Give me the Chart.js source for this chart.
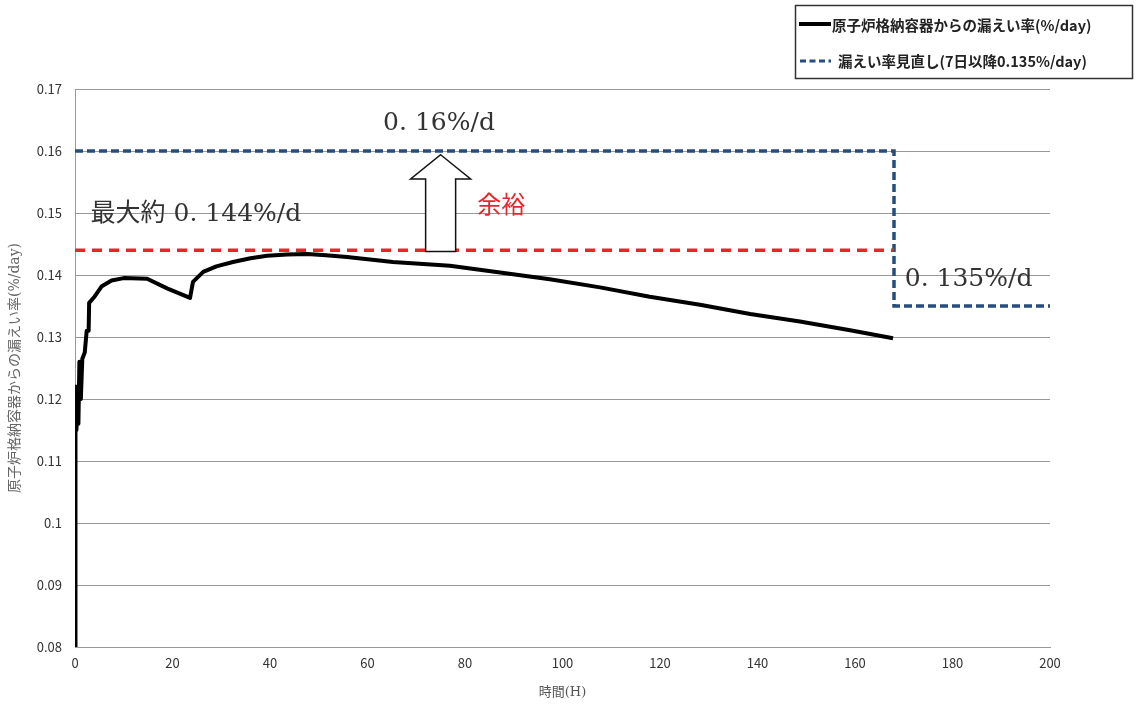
<!DOCTYPE html>
<html>
<head>
<meta charset="utf-8">
<script src="https://cdn.jsdelivr.net/npm/chart.js@4/dist/chart.umd.min.js"></script>
<style>
  html, body { margin: 0; padding: 0; background: #fff; }
  #wrap { width: 1139px; height: 704px; position: relative; }
</style>
</head>
<body>
<div id="wrap"><canvas id="leakChart" width="1139" height="704"></canvas></div>
<script>
// elapsed hours and leak rate (%/day)
const hours = [0, 0.1, 0.3, 0.5, 0.7, 0.9, 1.2, 1.5, 2.0, 2.4, 2.8, 2.9, 4, 5.5, 7.5, 10, 14.8, 19, 23.6,
  24.2, 26.3, 29, 32.4, 36, 39.4, 43.5, 47.6, 51.5, 55.8, 65.2, 76.9, 87.2, 97.4, 107.7, 117.9,
  128.2, 138.5, 148.7, 159, 167.8];
const leakRate = [0.08, 0.122, 0.115, 0.121, 0.116, 0.126, 0.120, 0.1265, 0.1275, 0.131, 0.131, 0.1355,
  0.1365, 0.1382, 0.1391, 0.1395, 0.1394, 0.1378, 0.1363,
  0.1389, 0.1405, 0.1414, 0.1421, 0.1427, 0.1431, 0.1433, 0.1434, 0.1432, 0.1429, 0.1421, 0.1415,
  0.1404, 0.1393, 0.1380, 0.1365, 0.1352, 0.1337, 0.1325, 0.1311, 0.1298];

// revised leak rate (0.16 until 7 days, 0.135 afterwards)
const reviewHours = [0, 168, 168, 200];
const reviewRate = [0.16, 0.16, 0.135, 0.135];

// max value line
const maxHours = [0, 168];
const maxRate = [0.144, 0.144];

const yTicks = [0.08, 0.09, 0.1, 0.11, 0.12, 0.13, 0.14, 0.15, 0.16, 0.17];
const xTicks = [0, 20, 40, 60, 80, 100, 120, 140, 160, 180, 200];

const legendLabels = ["原子炉格納容器からの漏えい率(%/day)", "漏えい率見直し(7日以降0.135%/day)"];
const yTitle = "原子炉格納容器からの漏えい率(%/day)";
const xTitle = "時間(H)";

function pts(xs, ys) {
  return xs.map((x, i) => ({ x: x, y: ys[i] }));
}

const SERIF = "'DejaVu Serif', 'Liberation Serif', 'Noto Sans CJK JP', serif";
const SANS = "'Noto Sans CJK JP', 'Open Sans', sans-serif";

const notesPlugin = {
  id: "notes",
  afterDatasetsDraw(chart) {
    const ctx = chart.ctx;
    const xs = chart.scales.x, ys = chart.scales.y;
    ctx.save();

    // hollow arrow showing the margin
    const cx = xs.getPixelForValue(75);
    const tip = ys.getPixelForValue(0.1594);
    const headBase = ys.getPixelForValue(0.1555);
    const bottom = ys.getPixelForValue(0.1438);
    ctx.beginPath();
    ctx.moveTo(cx, tip);
    ctx.lineTo(cx + 30, headBase);
    ctx.lineTo(cx + 15, headBase);
    ctx.lineTo(cx + 15, bottom);
    ctx.lineTo(cx - 15, bottom);
    ctx.lineTo(cx - 15, headBase);
    ctx.lineTo(cx - 30, headBase);
    ctx.closePath();
    ctx.fillStyle = "#fff";
    ctx.fill();
    ctx.strokeStyle = "#111";
    ctx.lineWidth = 1.5;
    ctx.stroke();

    ctx.textBaseline = "middle";
    ctx.textAlign = "left";
    ctx.fillStyle = "#333";
    ctx.font = "25px " + SERIF;
    ctx.fillText("0. 16%/d", xs.getPixelForValue(63.2), ys.getPixelForValue(0.1645));
    ctx.fillText("最大約 0. 144%/d", xs.getPixelForValue(3.2), ys.getPixelForValue(0.1497));
    ctx.fillText("0. 135%/d", xs.getPixelForValue(170.2), ys.getPixelForValue(0.1393));

    ctx.fillStyle = "#e8262a";
    ctx.font = "24px " + SANS;
    ctx.fillText("余裕", xs.getPixelForValue(82.5), ys.getPixelForValue(0.1515));

    // legend box
    ctx.strokeStyle = "#333";
    ctx.lineWidth = 1.5;
    ctx.strokeRect(795.5, 5.5, 337, 73);
    ctx.lineWidth = 4;
    ctx.strokeStyle = "#000";
    ctx.beginPath();
    ctx.moveTo(799, 24);
    ctx.lineTo(831, 24);
    ctx.stroke();
    ctx.lineWidth = 3;
    ctx.strokeStyle = "#264d80";
    ctx.setLineDash([6, 3.5]);
    ctx.beginPath();
    ctx.moveTo(800, 61);
    ctx.lineTo(831, 61);
    ctx.stroke();
    ctx.setLineDash([]);
    ctx.fillStyle = "#222";
    ctx.font = "bold 14.5px " + SANS;
    ctx.fillText(legendLabels[0], 832, 25);
    ctx.fillText(legendLabels[1], 838, 61);

    ctx.restore();
  }
};

new Chart(document.getElementById("leakChart").getContext("2d"), {
  type: "scatter",
  data: {
    datasets: [
      {
        label: legendLabels[1],
        data: pts(reviewHours, reviewRate),
        showLine: true,
        borderColor: "#264d80",
        borderWidth: 3.5,
        borderDash: [8, 4],
        pointRadius: 0,
        fill: false,
        order: 3
      },
      {
        label: "max",
        data: pts(maxHours, maxRate),
        showLine: true,
        borderColor: "#e8262a",
        borderWidth: 3.5,
        borderDash: [10, 7],
        pointRadius: 0,
        fill: false,
        order: 2
      },
      {
        label: legendLabels[0],
        data: pts(hours, leakRate),
        showLine: true,
        borderColor: "#000",
        borderWidth: 4,
        borderJoinStyle: "round",
        pointRadius: 0,
        fill: false,
        order: 1
      }
    ]
  },
  options: {
    responsive: false,
    animation: false,
    layout: { padding: { top: 89, right: 89, left: 0, bottom: 0 } },
    plugins: {
      legend: { display: false },
      tooltip: { enabled: false }
    },
    scales: {
      x: {
        type: "linear",
        min: 0,
        max: 200,
        afterBuildTicks: (scale) => { scale.ticks = xTicks.map(v => ({ value: v })); },
        ticks: { color: "#333", font: { size: 13, family: SANS }, padding: 8, maxRotation: 0 },
        grid: { display: false, drawTicks: false },
        border: { display: true, color: "#999", width: 1 },
        title: { display: true, text: xTitle, color: "#555", font: { size: 13, family: SERIF }, padding: { top: 2 } },
        afterFit: (scale) => { scale.height = 57; }
      },
      y: {
        min: 0.08,
        max: 0.17,
        afterBuildTicks: (scale) => { scale.ticks = yTicks.map(v => ({ value: v })); },
        ticks: {
          color: "#333",
          font: { size: 13, family: SANS },
          padding: 13,
          callback: (v) => String(Number(v.toFixed(2)))
        },
        grid: { color: "#999", lineWidth: 1, drawTicks: false },
        border: { display: true, color: "#999", width: 1 },
        title: { display: true, text: yTitle, color: "#666", font: { size: 14, family: SERIF }, padding: { top: 7, bottom: 0 } },
        afterFit: (scale) => { scale.width = 75; }
      }
    }
  },
  plugins: [notesPlugin]
});
</script>
</body>
</html>
